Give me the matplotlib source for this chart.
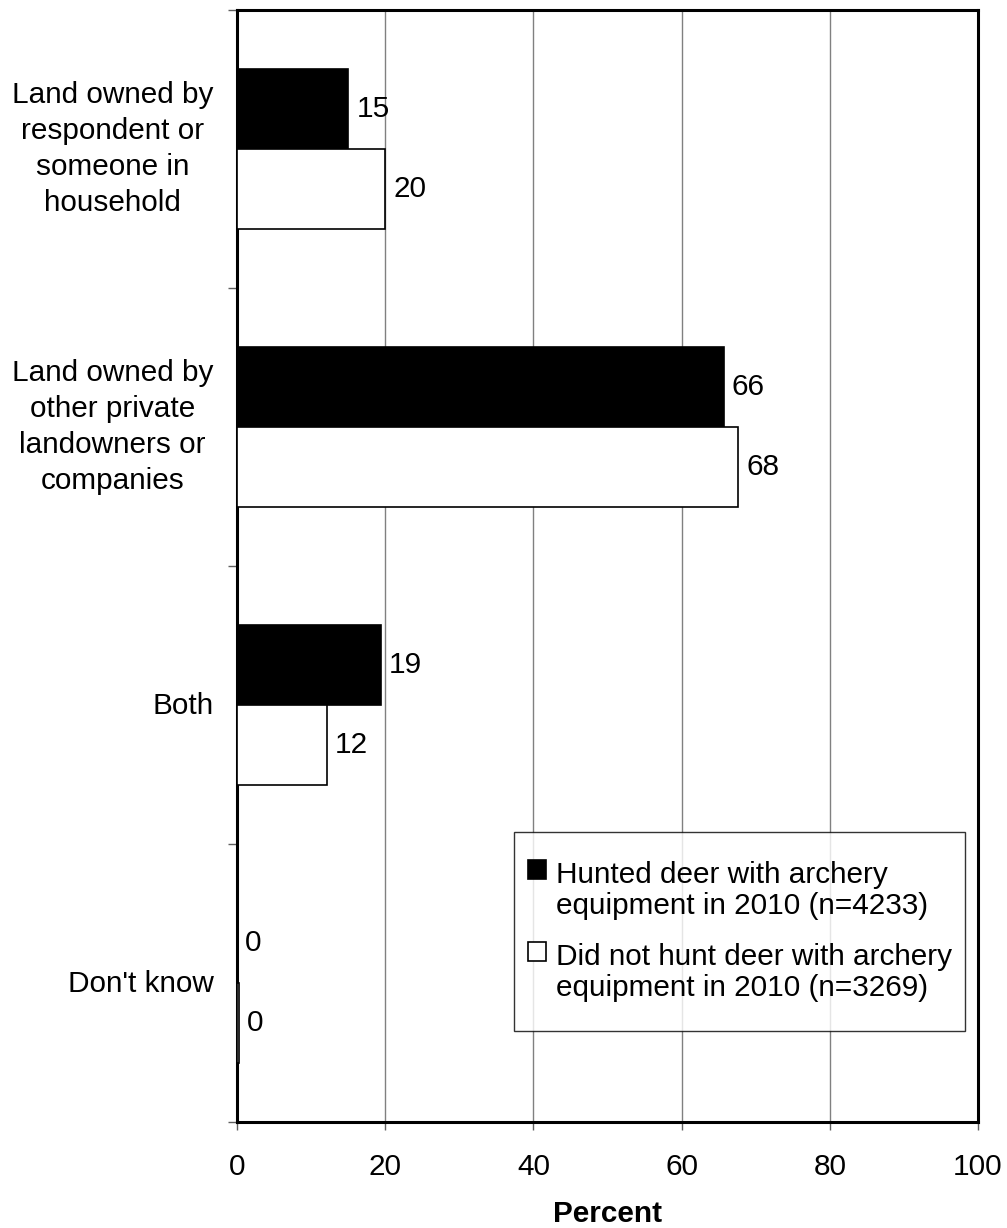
import numpy as np
import matplotlib
matplotlib.use('Agg')
from matplotlib import pyplot as plt
import matplotlib.patches as mpatches
from matplotlib.path import Path
from matplotlib.transforms import ScaledTranslation, Affine2D
from matplotlib.container import BarContainer
from matplotlib.legend_handler import HandlerPatch, update_from_first_child

plt.rcParams['font.family'] = ['Liberation Sans', 'DejaVu Sans']

categories = ['Land owned by\nrespondent or\nsomeone in\nhousehold',
              'Land owned by\nother private\nlandowners or\ncompanies',
              'Both',
              "Don't know"]
hunted = [15, 65.7, 19.4, 0]
not_hunted = [20, 67.6, 12.1, 0.3]
series_names = ['Hunted deer with archery\nequipment in 2010 (n=4233)',
                'Did not hunt deer with archery\nequipment in 2010 (n=3269)']
xticks = [0, 20, 40, 60, 80, 100]

fig = plt.figure(figsize=(10.07, 12.28), dpi=100)
ax = fig.add_axes([237 / 1007, 1 - 1122 / 1228, 741 / 1007, 1112 / 1228])

y = np.arange(len(categories))
h = 0.288
b1 = ax.barh(y - h / 2, hunted, height=h, color='black', edgecolor='black',
             linewidth=1.2, label=series_names[0], zorder=3)
b2 = ax.barh(y + h / 2, not_hunted, height=h, color='white', edgecolor='black',
             linewidth=1.2, label=series_names[1], zorder=3)

fs = 21.4
for bars, vals in [(b1, hunted), (b2, not_hunted)]:
    for bar, v in zip(bars, vals):
        yc = bar.get_y() + bar.get_height() / 2
        ax.text(v + 1.1, yc, f'{round(v):.0f}', va='center', ha='left',
                fontsize=fs, zorder=4)

ax.set_ylim(len(categories) - 0.5, -0.5)
ax.set_xlim(0, 100)
ax.set_yticks(np.arange(len(categories) + 1) - 0.5)
ax.set_yticklabels([])
ax.set_yticks(y, minor=True)
ax.set_yticklabels(categories, minor=True, fontsize=fs, ha='right',
                   multialignment='center', linespacing=1.36)
ax.tick_params(axis='y', which='minor', length=0, pad=17)
ax.tick_params(axis='y', which='major', length=6.5, direction='out', width=1,
               color='#606060')
# nudge the labels up a touch (multi-line ones sit low otherwise)
for lbl in ax.get_yticklabels(minor=True):
    up = 5 if '\n' in lbl.get_text() else 1.5
    lbl.set_transform(lbl.get_transform() + ScaledTranslation(0, up / 72, fig.dpi_scale_trans))

ax.set_xticks(xticks)
ax.set_xticklabels([str(t) for t in xticks], fontsize=fs)
ax.tick_params(axis='x', length=6, width=1, color='#606060', pad=16)
ax.grid(axis='x', color='#808080', linewidth=1, zorder=0)

for side in ['left', 'bottom', 'top', 'right']:
    ax.spines[side].set_linewidth(2.2)
    ax.spines[side].set_color('black')

ax.set_xlabel('Percent', fontsize=fs, fontweight='bold', labelpad=14)


def raised_box(legend, orig_handle, xdescent, ydescent, width, height, fontsize):
    # square sits beside the first line of the two-line label
    return mpatches.Rectangle((-xdescent, -ydescent + 0.72 * fontsize), width, height)


def tall_box(x0, y0, width, height, mutation_size):
    # extra room above and below only
    pad = 0.54 * mutation_size
    return Path.unit_rectangle().transformed(
        Affine2D().scale(width, height + 2 * pad).translate(x0, y0 - pad))


pad_px = 0.54 * fs * 100 / 72
leg = ax.legend(loc='lower right',
                bbox_to_anchor=((965 - 237) / 741, (1122 - 1031 + pad_px) / 1112),
                fontsize=fs, frameon=True, fancybox=False, edgecolor='black',
                handlelength=0.6, handleheight=0.6, handletextpad=0.34,
                labelspacing=0.8, borderpad=0.45, borderaxespad=0,
                handler_map={BarContainer: HandlerPatch(patch_func=raised_box,
                                                        update_func=update_from_first_child)})
leg.get_frame().set_linewidth(1)
leg.get_frame().set_boxstyle(tall_box)
for t in leg.get_texts():
    t.set_linespacing(1.1)

fig.savefig('out.png', dpi=100, facecolor='white')
